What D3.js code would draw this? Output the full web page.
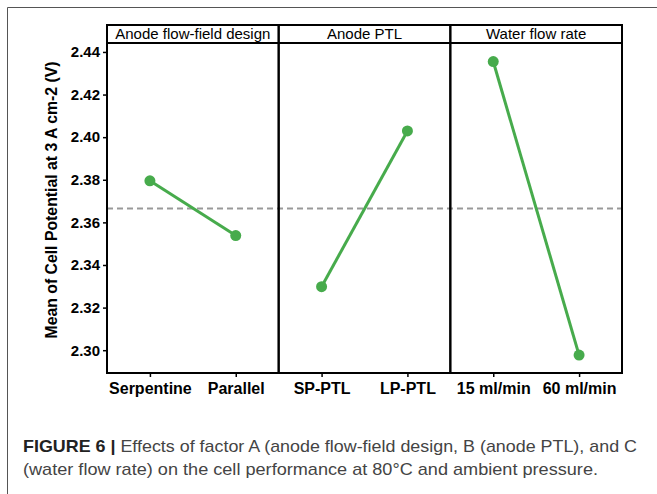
<!DOCTYPE html>
<html>
<head>
<meta charset="utf-8">
<script src="https://cdn.jsdelivr.net/npm/d3@7"></script>
<style>
  body { margin: 0; background: #fff; }
  svg { display: block; }
  .axis text { font: bold 15px "Liberation Sans", Arial, sans-serif; fill: #000; }
  .axis.x text { font-size: 16px; }
  .axis path { display: none; }
  .axis line { stroke: #000; stroke-width: 1.5; }
  .frame { fill: none; stroke: #000; stroke-width: 2; }
  .strip text { font: 15px "Liberation Sans", Arial, sans-serif; fill: #000; }
  .caption { font-family: "Liberation Sans", Arial, sans-serif; font-size: 17px; fill: #444; }
</style>
</head>
<body>
<svg id="chart"></svg>
<script>
// factors and their levels
const factors = ['Anode flow-field design', 'Anode PTL', 'Water flow rate'];
const levels = [
  ['Serpentine', 'Parallel'],
  ['SP-PTL', 'LP-PTL'],
  ['15 ml/min', '60 ml/min']
];
// mean cell potential at 3 A cm-2 (V)
const means = [
  [2.3795, 2.3538],
  [2.3298, 2.4029],
  [2.4355, 2.2977]
];
const grandMean = 2.3665;
const yTicks = [2.30, 2.32, 2.34, 2.36, 2.38, 2.40, 2.42, 2.44];

const W = 657, H = 494;
const plot = {left: 107, right: 622, top: 25, strip: 43, bottom: 373};

const svg = d3.select('#chart').attr('width', W).attr('height', H);

// outer card border
svg.append('path')
  .attr('d', `M7.5,${H} V7.5 H${W}`)
  .attr('fill', 'none')
  .attr('stroke', '#555')
  .attr('stroke-width', 1);

const y = d3.scaleLinear()
  .domain([2.2893, 2.4442])
  .range([plot.bottom, plot.strip]);

const panel = d3.scaleBand()
  .domain(factors)
  .range([plot.left, plot.right]);

// y axis
svg.append('g')
  .attr('class', 'axis')
  .attr('transform', `translate(${plot.left},0)`)
  .call(d3.axisLeft(y).tickValues(yTicks).tickFormat(d3.format('.2f')).tickSize(4).tickPadding(3));

svg.append('text')
  .attr('transform', `translate(57,${(plot.strip + plot.bottom) / 2 - 8}) rotate(-90)`)
  .attr('text-anchor', 'middle')
  .style('font', 'bold 15.8px "Liberation Sans", Arial, sans-serif')
  .text('Mean of Cell Potential at 3 A cm-2 (V)');

// grand mean reference line
svg.append('line')
  .attr('x1', plot.left).attr('x2', plot.right)
  .attr('y1', y(grandMean)).attr('y2', y(grandMean))
  .attr('stroke', '#999')
  .attr('stroke-width', 2)
  .attr('stroke-dasharray', '6,4');

const green = '#47ab4c';

factors.forEach((f, i) => {
  const x0 = panel(f);
  const bw = panel.bandwidth();
  const x = d3.scalePoint().domain(levels[i]).range([0, bw]).padding(0.5);
  const g = svg.append('g').attr('transform', `translate(${x0},0)`);
  const pts = levels[i].map((l, j) => ({level: l, value: means[i][j]}));

  g.append('path')
    .datum(pts)
    .attr('fill', 'none')
    .attr('stroke', green)
    .attr('stroke-width', 3)
    .attr('d', d3.line().x(d => x(d.level)).y(d => y(d.value)));

  g.selectAll('circle')
    .data(pts)
    .enter().append('circle')
    .attr('cx', d => x(d.level))
    .attr('cy', d => y(d.value))
    .attr('r', 5.5)
    .attr('fill', green);

  g.append('g')
    .attr('class', 'axis x')
    .attr('transform', `translate(0,${plot.bottom})`)
    .call(d3.axisBottom(x).tickSize(4).tickPadding(6));

  // panel frame + strip
  g.append('rect')
    .attr('class', 'frame')
    .attr('x', 0).attr('y', plot.top)
    .attr('width', bw).attr('height', plot.bottom - plot.top);
  g.append('line')
    .attr('class', 'frame')
    .attr('x1', 0).attr('x2', bw)
    .attr('y1', plot.strip).attr('y2', plot.strip);
  g.append('g').attr('class', 'strip')
    .append('text')
    .attr('x', bw / 2)
    .attr('y', (plot.top + plot.strip) / 2 + 5)
    .attr('text-anchor', 'middle')
    .text(f);
});

// caption
const cap1 = svg.append('text').attr('class', 'caption')
  .attr('x', 23).attr('y', 452)
  .attr('textLength', 614).attr('lengthAdjust', 'spacingAndGlyphs');
cap1.append('tspan').style('font-weight', 'bold').attr('fill', '#222').text('FIGURE 6 | ');
cap1.append('tspan').text('Effects of factor A (anode flow-field design, B (anode PTL), and C');

svg.append('text').attr('class', 'caption')
  .attr('x', 23).attr('y', 475)
  .attr('textLength', 575).attr('lengthAdjust', 'spacingAndGlyphs')
  .text('(water flow rate) on the cell performance at 80\u00b0C and ambient pressure.');
</script>
</body>
</html>
